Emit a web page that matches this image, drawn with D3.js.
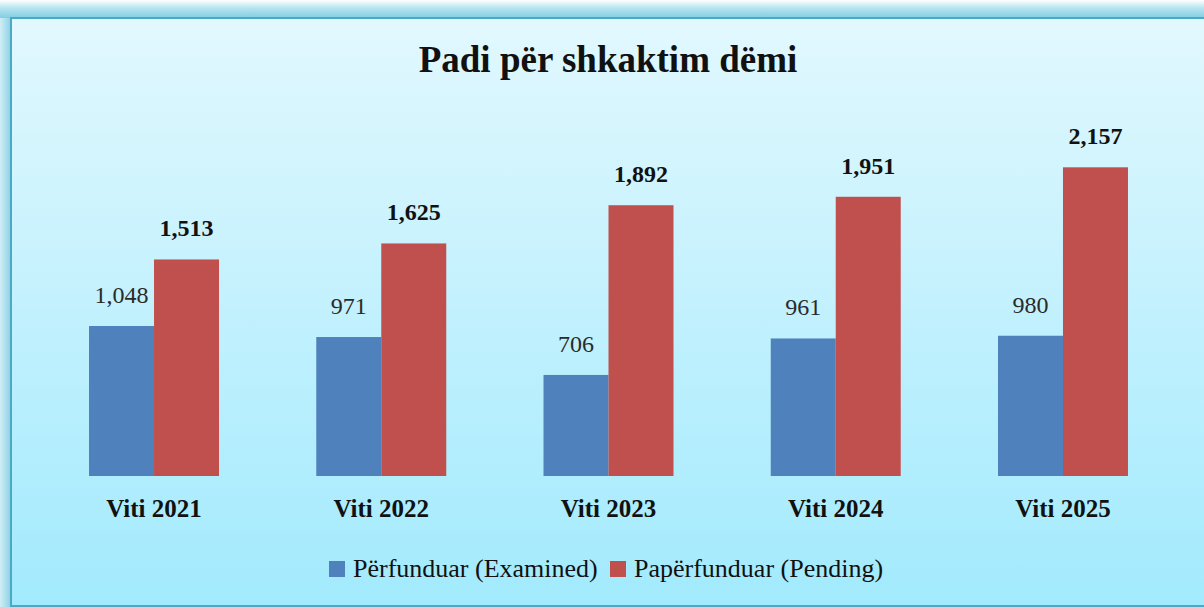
<!DOCTYPE html>
<html>
<head>
<meta charset="utf-8">
<script src="https://cdn.jsdelivr.net/npm/d3@7"></script>
<style>
  html, body { margin: 0; padding: 0; background: #ffffff; }
  svg { display: block; }
</style>
</head>
<body>
<svg id="chart" width="1204" height="607"></svg>
<script>
// Data
const categories = ["Viti 2021", "Viti 2022", "Viti 2023", "Viti 2024", "Viti 2025"];
const examined = [1048, 971, 706, 961, 980];
const pending = [1513, 1625, 1892, 1951, 2157];
const seriesNames = ["Përfunduar (Examined)", "Papërfunduar (Pending)"];
const seriesColors = ["#4f81bd", "#c0504d"];
const title = "Padi për shkaktim dëmi";

const W = 1204, H = 607;
const serif = "'Liberation Serif', 'Times New Roman', serif";
const svg = d3.select("#chart");
const defs = svg.append("defs");

// Outer shadow gradients around the frame
const shadowTop = defs.append("linearGradient").attr("id", "shadowTop")
  .attr("x1", 0).attr("y1", 0).attr("x2", 0).attr("y2", 1);
shadowTop.append("stop").attr("offset", "0%").attr("stop-color", "#ffffff");
shadowTop.append("stop").attr("offset", "45%").attr("stop-color", "#b5e4f0");
shadowTop.append("stop").attr("offset", "100%").attr("stop-color", "#82cde2");
const shadowLeft = defs.append("linearGradient").attr("id", "shadowLeft")
  .attr("x1", 0).attr("y1", 0).attr("x2", 1).attr("y2", 0);
shadowLeft.append("stop").attr("offset", "0%").attr("stop-color", "#d0eef6");
shadowLeft.append("stop").attr("offset", "100%").attr("stop-color", "#8bd0e3");

// Frame fill gradient
const bg = defs.append("linearGradient").attr("id", "bgGrad")
  .attr("x1", 0).attr("y1", 0).attr("x2", 0).attr("y2", 1);
bg.append("stop").attr("offset", "0%").attr("stop-color", "#e2f8fe");
bg.append("stop").attr("offset", "100%").attr("stop-color", "#a2eafd");

const frame = { x: 11, y: 18, w: W + 20, h: H - 18 - 1 };

svg.append("rect").attr("x", 0).attr("y", 0).attr("width", W).attr("height", frame.y)
  .attr("fill", "url(#shadowTop)");
svg.append("rect").attr("x", 0).attr("y", frame.y).attr("width", frame.x).attr("height", H - frame.y)
  .attr("fill", "url(#shadowLeft)");

svg.append("rect")
  .attr("x", frame.x).attr("y", frame.y)
  .attr("width", frame.w).attr("height", frame.h)
  .attr("fill", "url(#bgGrad)")
  .attr("stroke", "#4aa9c4").attr("stroke-width", 2);

// Title
svg.append("text")
  .attr("x", 608).attr("y", 72)
  .attr("text-anchor", "middle")
  .attr("font-family", serif)
  .attr("font-weight", "bold")
  .attr("font-size", 37)
  .attr("fill", "#111")
  .text(title);

// Scales
const baseline = 476;
const x0 = d3.scaleBand().domain(categories).range([40.4, 1176.6]).paddingInner(0.428).paddingOuter(0.214);
const x1 = d3.scaleBand().domain([0, 1]).range([0, x0.bandwidth()]);
const y = d3.scaleLinear().domain([0, 2157]).range([baseline, 167.3]);

const rows = categories.map((c, i) => ({ cat: c, vals: [examined[i], pending[i]] }));

const groups = svg.append("g").selectAll("g").data(rows).join("g")
  .attr("transform", d => `translate(${x0(d.cat)},0)`);

groups.selectAll("rect").data(d => d.vals.map((v, k) => ({ v, k }))).join("rect")
  .attr("x", d => x1(d.k))
  .attr("y", d => y(d.v))
  .attr("width", x1.bandwidth())
  .attr("height", d => baseline - y(d.v))
  .attr("fill", d => seriesColors[d.k]);

// Value labels
groups.selectAll("text.val").data(d => d.vals.map((v, k) => ({ v, k }))).join("text")
  .attr("class", "val")
  .attr("x", d => x1(d.k) + x1.bandwidth() / 2)
  .attr("y", d => y(d.v) - 23)
  .attr("text-anchor", "middle")
  .attr("font-family", serif)
  .attr("font-size", 24)
  .attr("font-weight", d => d.k === 1 ? "bold" : "normal")
  .attr("fill", d => d.k === 1 ? "#111" : "#2a2a2a")
  .text(d => d3.format(",")(d.v));

// Category axis labels
const xAxis = d3.axisBottom(x0).tickSize(0).tickPadding(0);
const axisG = svg.append("g").attr("transform", `translate(0,${baseline})`).call(xAxis);
axisG.select(".domain").remove();
axisG.selectAll("text")
  .attr("y", 41)
  .attr("dy", 0)
  .attr("font-family", serif)
  .attr("font-size", 25)
  .attr("font-weight", "bold")
  .attr("fill", "#111");

// Legend
const legend = svg.append("g").attr("transform", "translate(0,569)");
const legendX = [329, 610];
seriesNames.forEach((name, k) => {
  legend.append("rect")
    .attr("x", legendX[k]).attr("y", -8)
    .attr("width", 16).attr("height", 16)
    .attr("fill", seriesColors[k]);
  legend.append("text")
    .attr("x", legendX[k] + 24).attr("y", 8)
    .attr("font-family", serif)
    .attr("font-size", 26)
    .attr("fill", "#111")
    .text(name);
});
</script>
</body>
</html>
